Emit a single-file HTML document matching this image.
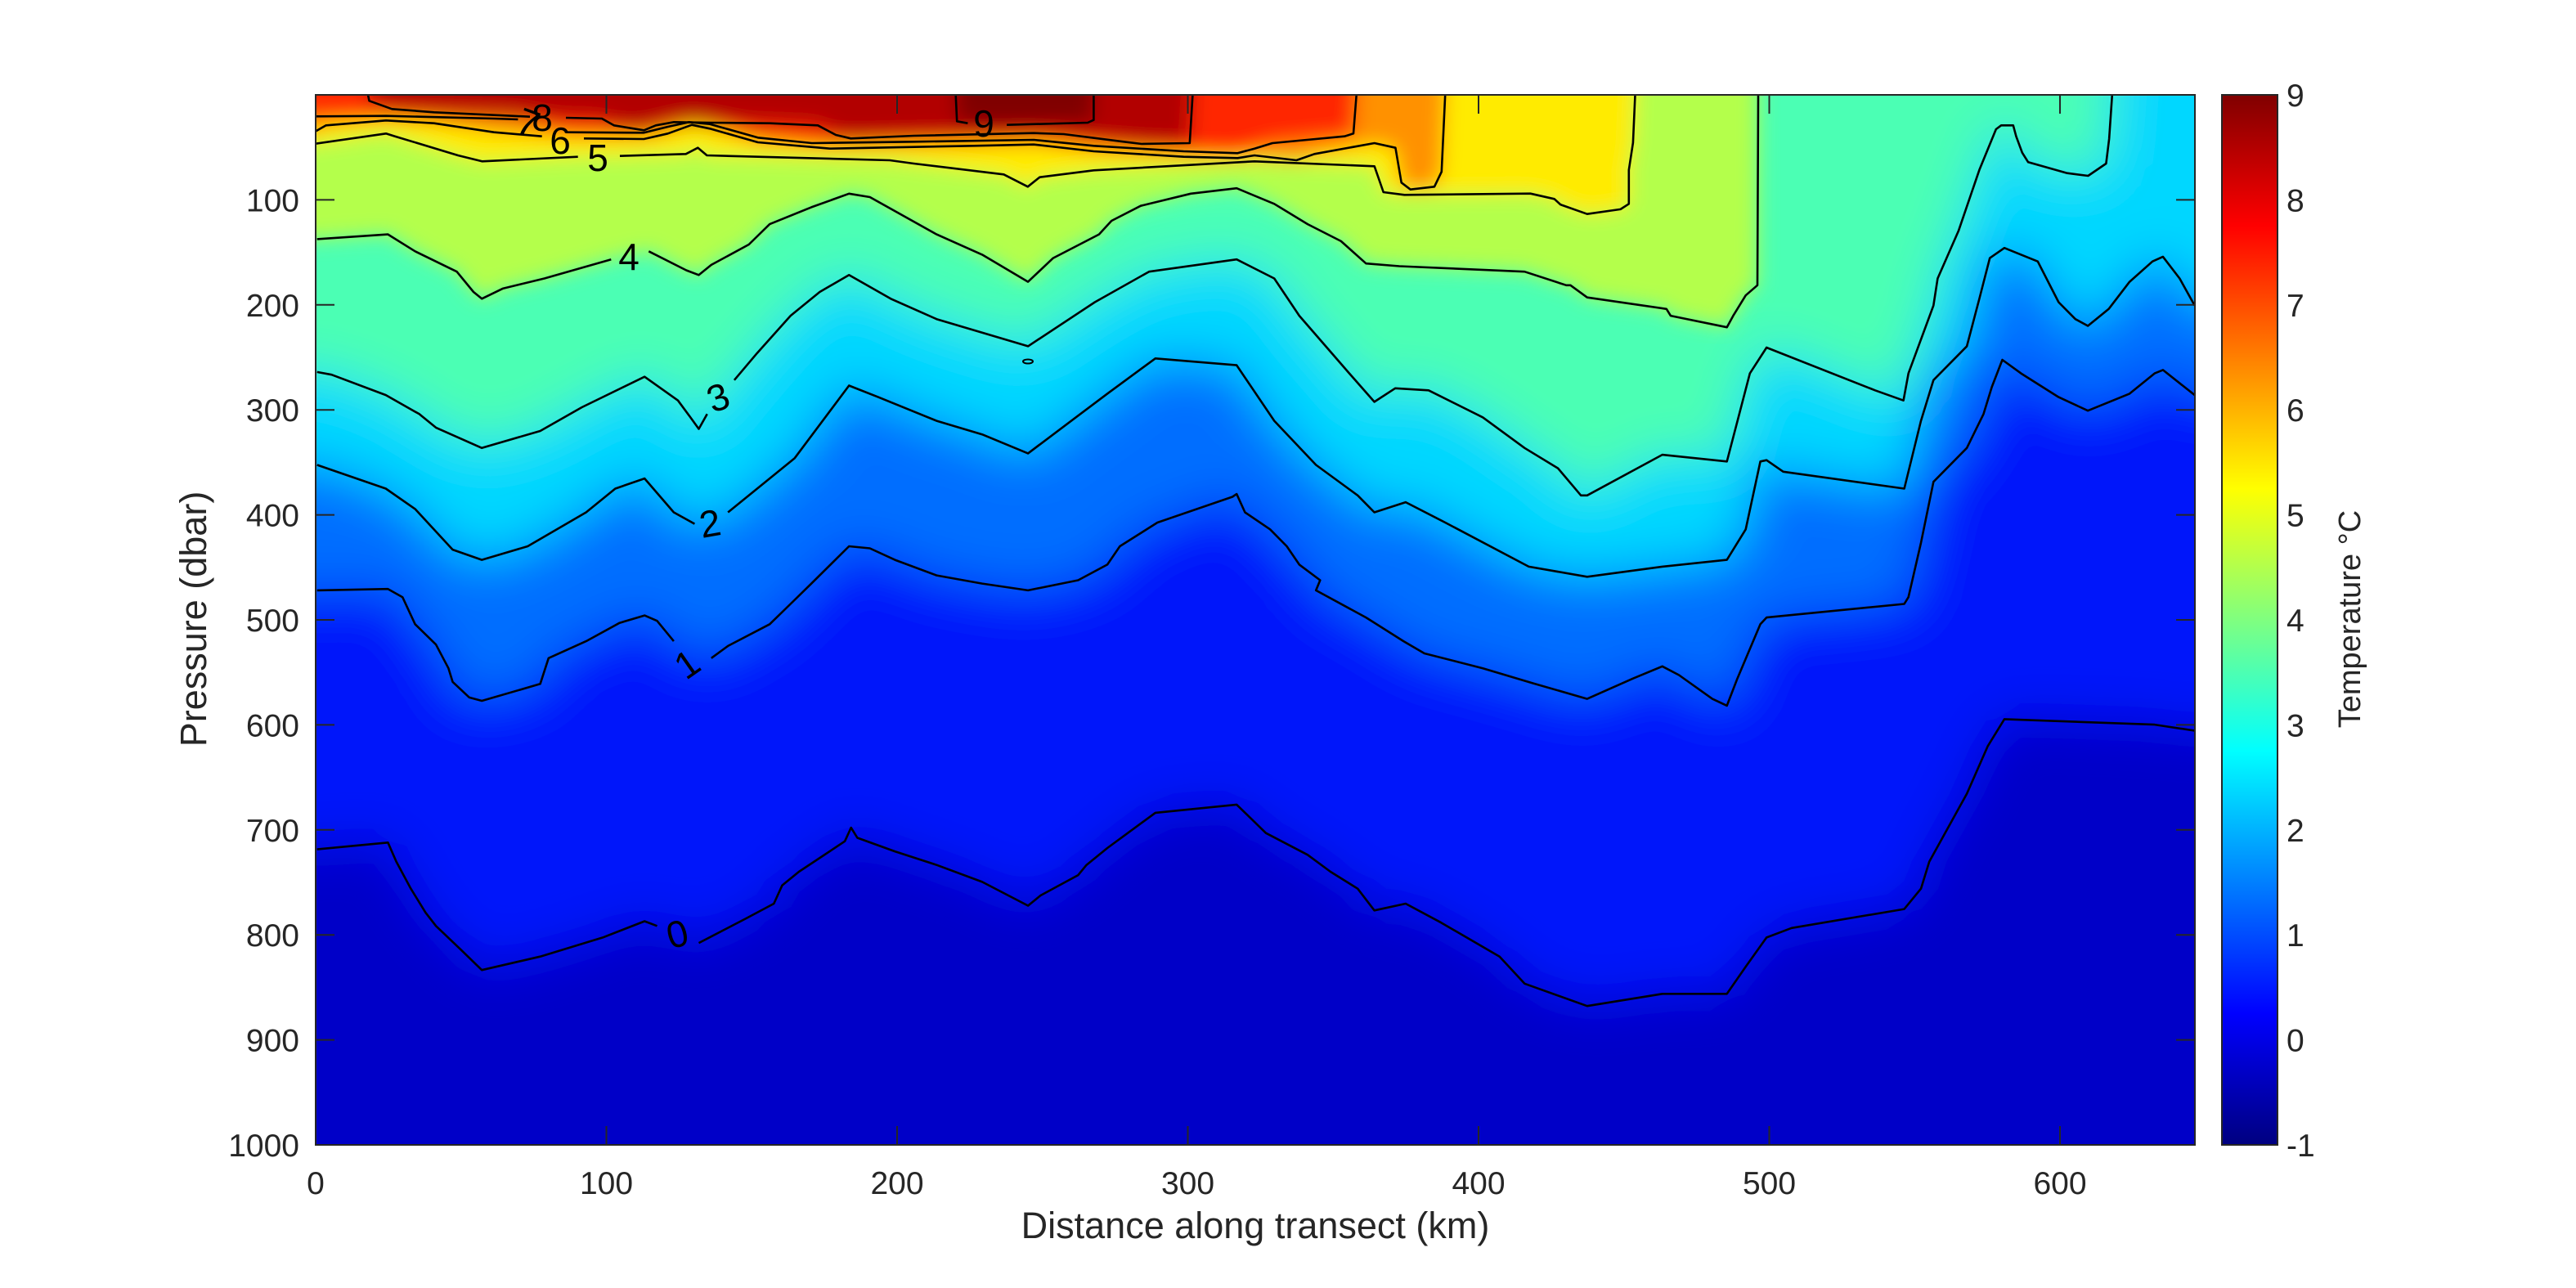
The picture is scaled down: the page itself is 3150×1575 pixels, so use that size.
<!DOCTYPE html>
<html><head><meta charset="utf-8">
<style>
html,body{margin:0;padding:0;background:#fff;}
svg{display:block;}
text{font-family:"Liberation Sans",Arial,sans-serif;fill:#262626;}
</style></head>
<body>
<svg id="s" xmlns="http://www.w3.org/2000/svg" width="3150" height="1575" viewBox="0 0 3150 1575">
<defs>
<clipPath id="ax"><rect x="386" y="116" width="2298" height="1284"/></clipPath>
<filter id="bl" x="-5%" y="-5%" width="110%" height="110%"><feGaussianBlur stdDeviation="12"/></filter>
<filter id="bl2" x="-5%" y="-5%" width="110%" height="110%"><feGaussianBlur stdDeviation="32"/></filter>
<linearGradient id="jet" x1="0" y1="1" x2="0" y2="0">
<stop offset="0" stop-color="rgb(0,0,128)"/>
<stop offset="0.125" stop-color="rgb(0,0,255)"/>
<stop offset="0.375" stop-color="rgb(0,255,255)"/>
<stop offset="0.625" stop-color="rgb(255,255,0)"/>
<stop offset="0.875" stop-color="rgb(255,0,0)"/>
<stop offset="1" stop-color="rgb(128,0,0)"/>
</linearGradient>
</defs>
<g clip-path="url(#ax)">
<rect x="386" y="116" width="2298" height="1284" fill="rgb(0,0,200)"/>
<g id="fills2" filter="url(#bl2)"></g>
<g id="fills" filter="url(#bl)"></g>
<g id="lines" fill="none" stroke="#000" stroke-width="2.6" stroke-linejoin="round"></g>
<ellipse cx="1257" cy="442" rx="6" ry="2.5" fill="none" stroke="#000" stroke-width="2"/>
</g>
<rect x="386" y="116" width="2298" height="1284" fill="none" stroke="#262626" stroke-width="2"/>
<g id="ticks" stroke="#262626" stroke-width="2"></g>
<g id="tl" font-size="39"></g>
<g font-size="46" fill="#000">
<text x="663" y="160" text-anchor="middle" style="fill:#000">8</text>
<text x="646" y="166" text-anchor="middle" style="fill:#000" transform="rotate(20 646 150)">7</text>
<text x="685" y="188" text-anchor="middle" style="fill:#000">6</text>
<text x="731" y="209" text-anchor="middle" style="fill:#000">5</text>
<text x="1203" y="167" text-anchor="middle" style="fill:#000">9</text>
<text x="769" y="330" text-anchor="middle" style="fill:#000">4</text>
<text x="878" y="502" text-anchor="middle" style="fill:#000" transform="rotate(-20 878 486)">3</text>
<text x="868" y="656" text-anchor="middle" style="fill:#000" transform="rotate(-10 868 639)">2</text>
<text x="840" y="828" text-anchor="middle" style="fill:#000" transform="rotate(-35 840 812)">1</text>
<text x="828" y="1158" text-anchor="middle" style="fill:#000" transform="rotate(-15 828 1141)">0</text>
</g>
<text x="1535" y="1514" font-size="45" text-anchor="middle">Distance along transect (km)</text>
<text x="0" y="0" font-size="45" text-anchor="middle" transform="translate(252 757) rotate(-90)">Pressure (dbar)</text>
<rect x="2717" y="116" width="68" height="1284" fill="url(#jet)" stroke="#262626" stroke-width="2"/>
<text x="0" y="0" font-size="38" text-anchor="middle" transform="translate(2886 757) rotate(-90)">Temperature °C</text>
</svg>
<script>
var Z={z2:[1900,100,1.96,1.206],z3:[380,100,1.96,1.206],z4:[1150,100,1.96,1.206],z7:[384,110,1.3635,3],z8:[1534,110,1.3635,3]};
function cv(z,p){var o=Z[z];return [o[0]+p[0]/o[2],o[1]+p[1]/o[3]];}
var C={
0:[['z3',[[15,1132],[185,1122],[205,1150],[240,1190],[275,1225],[300,1245],[360,1280],[410,1310],[550,1290],[700,1262],[800,1238],[830,1245]]],
['z3',[[930,1270],[1040,1235],[1110,1212],[1130,1185],[1170,1165],[1280,1120],[1295,1100],[1310,1115],[1400,1135],[1500,1155]],1],
['z4',[[100,1180],[210,1215],[240,1200],[330,1170],[350,1155],[400,1130],[515,1078],[710,1066],[780,1108],[880,1140],[935,1165],[1000,1190],[1040,1222],[1115,1212],[1200,1240],[1340,1290],[1400,1330]]],
['z2',[[80,1363],[260,1345],[415,1345],[460,1305],[510,1262],[570,1248],[840,1220],[880,1190],[900,1150],[990,1050],[1040,980],[1080,940],[1440,948],[1536,957]]]],
1:[['z3',[[15,750],[185,748],[220,760],[250,800],[300,830],[330,865],[340,885],[380,908],[410,913],[550,888],[570,850],[660,825],[740,798],[800,787],[830,795],[870,825]]],
['z3',[[960,850],[1000,832],[1100,800],[1150,770],[1200,740],[1290,685],[1340,688],[1400,705],[1500,728]],1],
['z4',[[100,740],[210,750],[330,735],[400,712],[430,685],[520,650],[700,612],[710,608],[730,635],[790,660],[830,685],[860,712],[910,735],[900,750],[1020,790],[1110,825],[1160,843],[1300,865],[1420,887]]],
['z2',[[80,910],[190,880],[260,862],[300,875],[380,910],[415,920],[440,880],[495,800],[510,790],[840,770],[850,760],[880,680],[910,590],[990,540],[1030,490],[1050,450],[1075,410],[1120,430],[1210,465],[1280,485],[1380,460],[1440,430],[1460,425],[1536,462]]]],
2:[['z3',[[15,565],[180,600],[250,630],[340,690],[410,705],[520,685],[660,635],[730,600],[800,585],[870,635],[920,652]]],
['z3',[[1000,635],[1160,555],[1290,448],[1360,465],[1500,500]],1],
['z4',[[100,520],[210,548],[400,460],[515,408],[710,418],[800,500],[900,565],[1000,610],[1040,635],[1115,620],[1210,650],[1410,715]]],
['z2',[[80,730],[260,715],[415,705],[460,660],[495,560],[510,558],[550,575],[840,600],[880,500],[910,440],[990,390],[1020,320],[1045,260],[1080,245],[1160,265],[1210,325],[1250,350],[1280,360],[1330,335],[1380,295],[1435,265],[1460,258],[1500,290],[1536,330]]]],
3:[['z3',[[15,428],[50,432],[180,462],[260,490],[300,510],[410,540],[550,515],[650,480],[800,435],[880,470],[910,495],[930,512],[950,490]]],
['z3',[[1015,440],[1070,400],[1150,345],[1220,310],[1290,285],[1390,320],[1500,350]],1],
['z4',[[100,370],[210,390],[370,325],[500,280],[710,262],[800,290],[860,345],[980,430],[1040,472],[1090,452],[1170,455],[1300,495],[1400,540],[1480,570],[1535,610]]],
['z2',[[80,610],[260,550],[415,560],[470,430],[510,392],[770,455],[838,470],[850,430],[910,330],[920,290],[970,220],[1020,130],[1060,70]]],
['z8',[[1245,130],[1265,130],[1270,170],[1280,230],[1290,265],[1355,305],[1390,315],[1420,270],[1425,180],[1430,18]]]],
4:[['z3',[[15,232],[185,225],[250,250],[350,280],[390,310],[410,320],[460,305],[560,290],[720,262]]],
['z3',[[810,250],[900,278],[930,285],[960,270],[1050,240],[1100,210],[1200,185],[1290,165],[1340,170],[1500,225]],1],
['z4',[[100,255],[210,295],[270,260],[380,225],[410,205],[480,183],[600,165],[710,157],[800,180],[880,210],[960,235],[1020,268],[1100,272],[1400,280],[1500,300]]],
['z2',[[40,300],[80,318],[270,335],[280,345],[415,362],[430,345],[460,315],[488,300],[490,19]]]],
5:[['z7',[[0,198],[120,160],[135,170],[240,240],[280,262],[440,245]]],
['z7',[[510,242],[620,235],[640,212],[655,240],[960,258],[1000,270],[1150,310],[1190,355],[1210,320],[1300,295],[1568,262]],1],
['z8',[[200,280],[215,375],[250,385],[460,380],[500,400],[510,420]]],
['z2',[[20,182],[80,195],[160,188],[180,180],[180,130],[190,90],[195,19]]]],
6:[['z7',[[0,155],[20,130],[120,112],[200,122],[300,155],[380,170]]],
['z7',[[450,178],[550,180],[590,160],[630,128],[660,142],[740,192],[860,215],[1100,205],[1200,200],[1300,225],[1450,245],[1540,250],[1568,240]],1],
['z8',[[70,258],[100,235],[200,195],[235,212],[245,340],[260,365],[300,355],[312,300],[318,18]]]],
7:[['z7',[[0,97],[120,95],[300,105],[340,108]]],
['z7',[[420,155],[550,157],[590,135],[625,118],[660,125],[740,175],[830,195],[1000,190],[1200,183],[1300,205],[1450,225],[1540,232],[1568,215]],1],
['z8',[[30,195],[150,170],[165,160],[170,18]]]],
8:[['z7',[[90,18],[92,40],[130,70],[200,82],[330,95],[360,98]]],
['z7',[[420,102],[480,105],[500,130],[550,148],[570,130],[600,118],[660,120],[760,122],[840,130],[870,165],[895,178],[1000,168],[1200,158],[1250,162],[1350,190],[1380,198],[1460,195],[1465,18]],1]],
9:[['z7',[[1070,18],[1072,115],[1090,122]]],
['z7',[[1155,128],[1290,120],[1300,110],[1300,18]],1]]
};
var cols=['rgb(0,22,250)','rgb(0,110,255)','rgb(0,215,255)','rgb(75,255,180)','rgb(180,255,75)','rgb(255,235,0)','rgb(255,145,0)','rgb(255,40,0)','rgb(178,0,0)','rgb(128,0,0)'];
var NS='http://www.w3.org/2000/svg';
var F=document.getElementById('fills'),F2=document.getElementById('fills2'),Ln=document.getElementById('lines');
function f(p){return p[0].toFixed(1)+','+p[1].toFixed(1);}
for(var k=0;k<=9;k++){
 var segs=C[k],all=[],strokes=[],cur=[];
 segs.forEach(function(s){var pts=s[1].map(function(p){return cv(s[0],p);});
  if(s[2]){strokes.push(cur);cur=[];}
  pts.forEach(function(p){all.push(p);cur.push(p);});});
 strokes.push(cur);
 var x0=all[0][0],y0=all[0][1],xn=all[all.length-1][0],yn=all[all.length-1][1];
 var poly=[],left=x0<420;
 if(left)poly.push([0,y0]);else poly.push([x0,0]);
 poly=poly.concat(all);
 if(xn>2650){poly.push([3150,yn]);poly.push([3150,0]);}else poly.push([xn,0]);
 if(left)poly.push([0,0]);
 var pe=document.createElementNS(NS,'path');
 pe.setAttribute('d','M'+poly.map(f).join('L')+'Z');pe.setAttribute('fill',cols[k]);
 (k<=3?F2:F).appendChild(pe);
 strokes.forEach(function(st){if(st.length<2)return;var l=document.createElementNS(NS,'path');
  l.setAttribute('d','M'+st.map(f).join('L'));Ln.appendChild(l);});
}
var TK=document.getElementById('ticks'),TL=document.getElementById('tl');
function ln(a,b,c,d){var l=document.createElementNS(NS,'line');l.setAttribute('x1',a);l.setAttribute('y1',b);l.setAttribute('x2',c);l.setAttribute('y2',d);TK.appendChild(l);}
function tx(x,y,s,a){var t=document.createElementNS(NS,'text');t.setAttribute('x',x);t.setAttribute('y',y);t.setAttribute('text-anchor',a);t.textContent=s;TL.appendChild(t);}
for(var km=0;km<=600;km+=100){var x=386+km*3.555;ln(x,1400,x,1377);ln(x,116,x,139);tx(x,1460,''+km,'middle');}
for(var p=100;p<=1000;p+=100){var y=116+p*1.284;ln(386,y,409,y);ln(2684,y,2661,y);tx(366,y+14,''+p,'end');}
for(var t=-1;t<=9;t++){var y=1400-(t+1)*128.4;ln(2785,y,2773,y);tx(2796,y+14,''+t,'start');}
</script>
</body></html>
